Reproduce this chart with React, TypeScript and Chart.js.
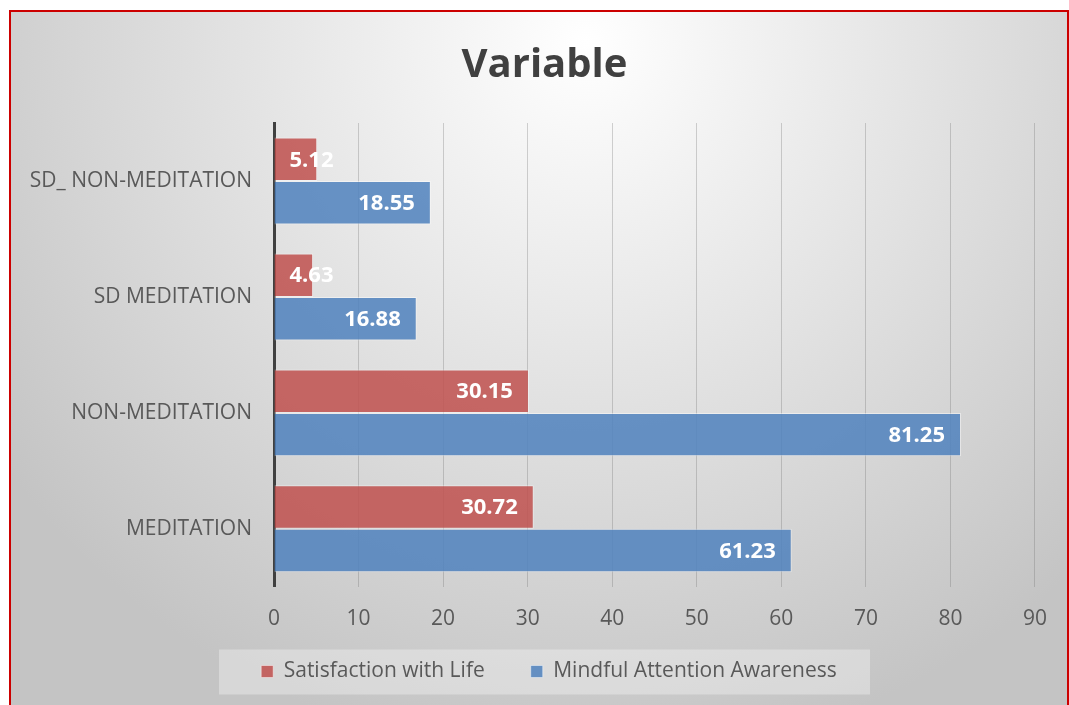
import React, { useEffect, useRef } from "react";
import { Chart, registerables } from "chart.js";

Chart.register(...registerables);

const chartTitle = "Variable";
const categories = ["SD_ NON-MEDITATION", "SD MEDITATION", "NON-MEDITATION", "MEDITATION"];
const seriesNames = ["Satisfaction with Life", "Mindful Attention Awareness"];
const satisfactionWithLife = [5.12, 4.63, 30.15, 30.72];
const mindfulAttentionAwareness = [18.55, 16.88, 81.25, 61.23];
const xAxisMin = 0;
const xAxisMax = 90;
const xAxisStep = 10;

const FONT = "'Open Sans', 'Noto Sans', sans-serif";

const valueLabels = {
  id: "valueLabels",
  afterDatasetsDraw(chart: any) {
    const ctx = chart.ctx;
    ctx.save();
    ctx.font = `bold 22px ${FONT}`;
    ctx.fillStyle = "#ffffff";
    ctx.textBaseline = "middle";
    ctx.textAlign = "left";
    chart.data.datasets.forEach((ds: any, di: number) => {
      const meta = chart.getDatasetMeta(di);
      meta.data.forEach((bar: any, i: number) => {
        const text = Number(ds.data[i]).toFixed(2);
        const w = ctx.measureText(text).width;
        const right = Math.max(bar.x - 16, bar.base + 59);
        ctx.fillText(text, right - w, bar.y + 1);
      });
    });
    ctx.restore();
  },
};

const boxShift = {
  id: "boxShift",
  afterLayout(chart: any) {
    const lg = chart.legend;
    if (lg) {
      lg.top -= 37;
      lg.bottom -= 37;
      lg.left += 19.5;
      lg.right += 19.5;
    }
    const t = chart.titleBlock;
    if (t) {
      t.left += 15;
      t.right += 15;
    }
  },
};

const legendBackground = {
  id: "legendBackground",
  beforeDraw(chart: any) {
    const lg = chart.legend;
    if (!lg) return;
    const ctx = chart.ctx;
    const cx = (lg.left + lg.right) / 2;
    const cy = lg.top + lg.options.labels.padding + 10.5;
    ctx.save();
    ctx.fillStyle = "rgba(255,255,255,0.32)";
    ctx.fillRect(cx - 330, cy - 22, 651, 45);
    ctx.restore();
  },
};

export default function App() {
  const canvasRef = useRef<HTMLCanvasElement | null>(null);

  useEffect(() => {
    const canvas = canvasRef.current;
    if (!canvas) return;
    const chart = new Chart(canvas, {
      type: "bar",
      data: {
        labels: categories,
        datasets: [
          {
            label: seriesNames[0],
            data: satisfactionWithLife,
            backgroundColor: "rgba(192,80,77,0.85)",
            borderColor: "rgba(255,255,255,0.45)",
            borderWidth: 1,
            categoryPercentage: 0.75,
            barPercentage: 1,
          },
          {
            label: seriesNames[1],
            data: mindfulAttentionAwareness,
            backgroundColor: "rgba(79,129,189,0.85)",
            borderColor: "rgba(255,255,255,0.45)",
            borderWidth: 1,
            categoryPercentage: 0.75,
            barPercentage: 1,
          },
        ],
      },
      options: {
        indexAxis: "y",
        responsive: false,
        animation: false,
        devicePixelRatio: 1,
        layout: { padding: { left: 10, right: 29, top: 0, bottom: 0 } },
        plugins: {
          title: {
            display: true,
            text: chartTitle,
            color: "#404040",
            font: { family: FONT, size: 40, weight: "bold", lineHeight: 1.2 },
            padding: { top: 30, bottom: 33 },
          },
          legend: {
            display: true,
            position: "bottom",
            labels: {
              color: "#595959",
              font: { family: FONT, size: 21 },
              boxWidth: 12,
              boxHeight: 12,
              padding: 46,
            },
          },
          tooltip: { enabled: false },
        },
        scales: {
          x: {
            min: xAxisMin,
            max: xAxisMax,
            ticks: {
              stepSize: xAxisStep,
              color: "#595959",
              font: { family: FONT, size: 21 },
              padding: 20,
            },
            grid: {
              color: "rgba(110,110,110,0.3)",
              lineWidth: 1,
              drawTicks: false,
            },
            border: { display: false },
          },
          y: {
            z: 1,
            ticks: {
              color: "#595959",
              font: { family: FONT, size: 21 },
              padding: 22,
            },
            grid: { display: false, drawTicks: false },
            border: { display: true, color: "#404040", width: 3 },
            afterFit(scale: any) {
              scale.width = 253;
            },
          },
        },
      },
      plugins: [valueLabels, boxShift, legendBackground],
    } as any);
    return () => chart.destroy();
  }, []);

  return (
    <div
      style={{
        position: "fixed",
        left: 9,
        top: 10,
        width: 1060,
        height: 726,
        boxSizing: "border-box",
        border: "2px solid #cc0000",
        background:
          "radial-gradient(circle 720px at 575px 30px, #ffffff 0%, #c4c4c4 100%)",
        overflow: "hidden",
      }}
    >
      <canvas ref={canvasRef} width={1056} height={717} style={{ display: "block" }} />
    </div>
  );
}
